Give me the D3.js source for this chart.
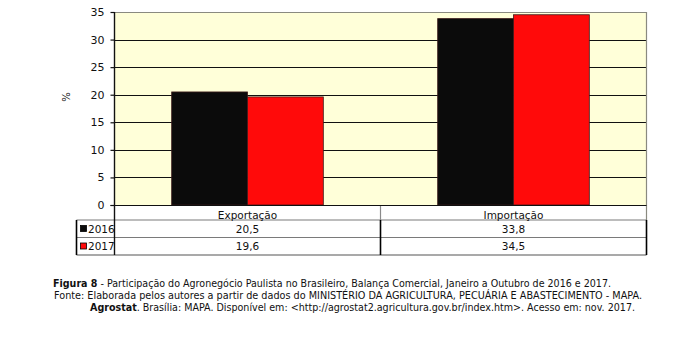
<!DOCTYPE html>
<html><head><meta charset="utf-8">
<script src="https://cdn.jsdelivr.net/npm/d3@7"></script>
<style>
html,body{margin:0;padding:0;background:#fff;}
svg{display:block;}
text{font-family:"DejaVu Sans",Verdana,sans-serif;fill:#111;}
</style></head>
<body>
<svg id="c" width="692" height="344"></svg>
<script>
const categories = ["Exportação", "Importação"];
const seriesNames = ["2016", "2017"];
const values2016 = [20.5, 33.8];
const values2017 = [19.6, 34.5];
const valueLabels2016 = ["20,5", "33,8"];
const valueLabels2017 = ["19,6", "34,5"];
const yTicks = [0, 5, 10, 15, 20, 25, 30, 35];
const seriesColors = ["#0b0b0b", "#ff0a0a"];

const series = [
  {name: seriesNames[0], values: values2016, labels: valueLabels2016, color: seriesColors[0]},
  {name: seriesNames[1], values: values2017, labels: valueLabels2017, color: seriesColors[1]}
];

const svg = d3.select("#c");
const L = 114.5, R = 646.5, T = 12, B = 205;
const tableLeft = 76.5;
const rowY = [205, 220, 237.5, 255];

const x = d3.scaleBand().domain(categories).range([L, R]).paddingInner(0).paddingOuter(0);
const bw = x.bandwidth();
const xs = d3.scaleBand().domain(seriesNames).range([bw * 0.215, bw * 0.785]);
const y = d3.scaleLinear().domain([0, 35]).range([B, T]);

// plot background
svg.append("rect").attr("x", L).attr("y", T).attr("width", R - L).attr("height", B - T)
  .attr("fill", "#ffffd9");

// gridlines
svg.append("g").selectAll("line").data(yTicks.filter(d => d > 0 && d < 35)).join("line")
  .attr("x1", L).attr("x2", R)
  .attr("y1", d => Math.round(y(d)) + 0.5).attr("y2", d => Math.round(y(d)) + 0.5)
  .attr("stroke", "#111").attr("stroke-width", 1.2);

// border top/right grey
svg.append("path")
  .attr("d", `M${L},${T + 0.5}H${R}V${rowY[1]}`)
  .attr("fill", "none").attr("stroke", "#8a8a80").attr("stroke-width", 1.2);

// bars
const g = svg.append("g");
series.forEach(s => {
  g.selectAll(null).data(categories).join("rect")
    .attr("x", d => x(d) + xs(s.name))
    .attr("width", xs.bandwidth())
    .attr("y", (d, i) => y(s.values[i]))
    .attr("height", (d, i) => y(0) - y(s.values[i]))
    .attr("fill", s.color)
    .attr("stroke", "#3a1a1a").attr("stroke-width", 0.8);
});

// y axis
const yAxis = d3.axisLeft(y).tickValues(yTicks).tickSize(4).tickPadding(6).tickFormat(d3.format("d"));
const ya = svg.append("g").attr("transform", `translate(${L},0)`).call(yAxis);
ya.select(".domain").remove();
ya.selectAll(".tick line").attr("stroke", "#111").attr("stroke-width", 1.2);
ya.selectAll(".tick text").attr("font-size", 11).attr("fill", "#111")
  .style("font-family", '"DejaVu Sans", sans-serif');

// y axis label
svg.append("text").attr("transform", "translate(70,97) rotate(-90)")
  .attr("text-anchor", "middle").attr("font-size", 10).text("%");

// table lines
const tl = svg.append("g");
tl.append("line").attr("x1", tableLeft).attr("x2", R).attr("y1", rowY[1]).attr("y2", rowY[1])
  .attr("stroke", "#7a7a7a").attr("stroke-width", 1.2);
tl.append("line").attr("x1", tableLeft).attr("x2", R).attr("y1", rowY[2]).attr("y2", rowY[2])
  .attr("stroke", "#7a7a7a").attr("stroke-width", 1.2);
tl.append("line").attr("x1", tableLeft).attr("x2", R).attr("y1", rowY[3]).attr("y2", rowY[3])
  .attr("stroke", "#555").attr("stroke-width", 1.2);
tl.append("line").attr("x1", x(categories[1])).attr("x2", x(categories[1])).attr("y1", rowY[0]).attr("y2", rowY[1])
  .attr("stroke", "#8a8a8a").attr("stroke-width", 1.2);
[tableLeft, x(categories[1]), R].forEach(xx => {
  tl.append("line").attr("x1", xx).attr("x2", xx).attr("y1", rowY[1]).attr("y2", rowY[3])
    .attr("stroke", "#000").attr("stroke-width", 1.6);
});
svg.append("line").attr("x1", L - 4).attr("x2", R).attr("y1", B + 0.5).attr("y2", B + 0.5)
  .attr("stroke", "#111").attr("stroke-width", 1.2);
svg.append("line").attr("x1", L).attr("x2", L).attr("y1", T).attr("y2", rowY[3])
  .attr("stroke", "#111").attr("stroke-width", 1.4);

// category labels
svg.append("g").selectAll("text").data(categories).join("text")
  .attr("x", d => x(d) + bw / 2).attr("y", 218.5)
  .attr("text-anchor", "middle").attr("font-size", 10.5).text(d => d);

// values rows
series.forEach((s, si) => {
  const yy = si === 0 ? 232.5 : 250;
  svg.append("g").selectAll("text").data(categories).join("text")
    .attr("x", d => x(d) + bw / 2).attr("y", yy)
    .attr("text-anchor", "middle").attr("font-size", 10.5).text((d, i) => s.labels[i]);
  svg.append("rect").attr("x", 80.5).attr("y", yy - 7).attr("width", 6).attr("height", 6)
    .attr("fill", s.color).attr("stroke", "#000").attr("stroke-width", 0.8);
  svg.append("text").attr("x", 88).attr("y", yy).attr("font-size", 10.5).text(s.name);
});

// caption
const cap = svg.append("g").attr("font-size", 10.5);
function line(xx, yy, w, parts) {
  const t = cap.append("text").attr("x", xx).attr("y", yy).attr("textLength", w).attr("lengthAdjust", "spacingAndGlyphs");
  parts.forEach(p => t.append("tspan").attr("font-weight", p[1] ? "bold" : null).text(p[0]));
}
line(53, 286.5, 558, [["Figura 8", true], [" - Participação do Agronegócio Paulista no Brasileiro, Balança Comercial, Janeiro a Outubro de 2016 e 2017.", false]]);
line(54, 298.5, 588, [["Fonte: Elaborada pelos autores a partir de dados do MINISTÉRIO DA AGRICULTURA, PECUÁRIA E ABASTECIMENTO - MAPA.", false]]);
line(90, 311, 545, [["Agrostat", true], [". Brasília: MAPA. Disponível em: <http://agrostat2.agricultura.gov.br/index.htm>. Acesso em: nov. 2017.", false]]);
</script>
</body></html>
